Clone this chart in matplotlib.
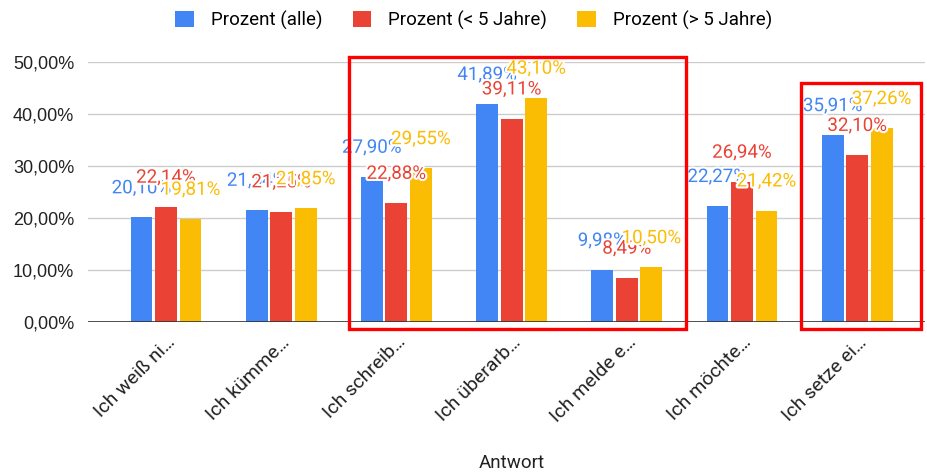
import matplotlib
matplotlib.use("Agg")
import matplotlib.pyplot as plt
import matplotlib.patheffects as pe
from matplotlib.patches import Patch, Rectangle
import numpy as np

plt.rcParams['font.family'] = ['Roboto', 'DejaVu Sans']

antworten = ["Ich weiß ni…", "Ich kümme…", "Ich schreib…", "Ich überarb…",
             "Ich melde e…", "Ich möchte…", "Ich setze ei…"]
serien = ["Prozent (alle)", "Prozent (< 5 Jahre)", "Prozent (> 5 Jahre)"]
prozent_alle = [20.10, 21.54, 27.90, 41.89, 9.98, 22.27, 35.91]
prozent_unter5 = [22.14, 21.25, 22.88, 39.11, 8.49, 26.94, 32.10]
prozent_ueber5 = [19.81, 21.85, 29.55, 43.10, 10.50, 21.42, 37.26]
y_ticks = [0, 10, 20, 30, 40, 50]

farben = ["#4285F4", "#EA4335", "#FBBC04"]
werte = [prozent_alle, prozent_unter5, prozent_ueber5]

def fmt(v):
    return f"{v:.2f}".replace(".", ",") + "%"

fig = plt.figure(figsize=(9.27, 4.72), dpi=100)
ax = fig.add_axes([88 / 927, 150 / 472, (925 - 88) / 927, 260 / 472])

x = np.arange(len(antworten))
breite = 0.19
abstand = 0.213

for i, (name, vals, farbe) in enumerate(zip(serien, werte, farben)):
    pos = x + (i - 1) * abstand
    ax.bar(pos, vals, width=breite, color=farbe, zorder=2, label=name)

for j in range(len(antworten)):
    for i, (vals, farbe) in enumerate(zip(werte, farben)):
        ax.annotate(fmt(vals[j]), (x[j] + (i - 1) * abstand, vals[j]),
                    xytext=(0, 21), textcoords="offset points",
                    ha="center", va="center", fontsize=13.5, color=farbe,
                    zorder=3,
                    path_effects=[pe.withStroke(linewidth=3, foreground="white")])

ax.set_xlim((88 - 166) / 115.2, (925 - 166) / 115.2)
ax.set_ylim(0, 50)
ax.set_yticks(y_ticks)
ax.set_yticklabels([fmt(v) for v in y_ticks], fontsize=13,
                   family=['Liberation Sans', 'DejaVu Sans'], color="#222222")
ax.yaxis.grid(True, color="#cccccc", linewidth=1, zorder=0)
ax.axhline(0, color="#333333", linewidth=1.2, zorder=3)
ax.tick_params(axis="y", length=0, pad=10)
ax.tick_params(axis="x", length=0, pad=8)
ax.set_xticks(x)
ax.set_xticklabels(antworten, rotation=45, ha="right", rotation_mode="anchor",
                   fontsize=14, color="#222222")
for s in ax.spines.values():
    s.set_visible(False)

fig.text(512 / 927, 1 - 463 / 472, "Antwort", ha="center", va="center",
         fontsize=13.5, color="#222222")

handles = [Patch(facecolor=f, edgecolor="none") for f in farben]
fig.legend(handles, serien, loc="center", bbox_to_anchor=(0.511, 1 - 20 / 472),
           ncol=3, frameon=False, fontsize=13.5, handlelength=1.0,
           handleheight=1.0, handletextpad=0.9, columnspacing=1.6)

# rote Markierungen
for (l, t, r, b) in [(349, 57, 686, 329), (801, 83, 921, 329)]:
    fig.patches.append(Rectangle((l / 927, 1 - b / 472), (r - l) / 927, (b - t) / 472,
                                 transform=fig.transFigure, fill=False,
                                 edgecolor="#FF0000", linewidth=2.4, zorder=10))

fig.savefig("out.png", dpi=100)
